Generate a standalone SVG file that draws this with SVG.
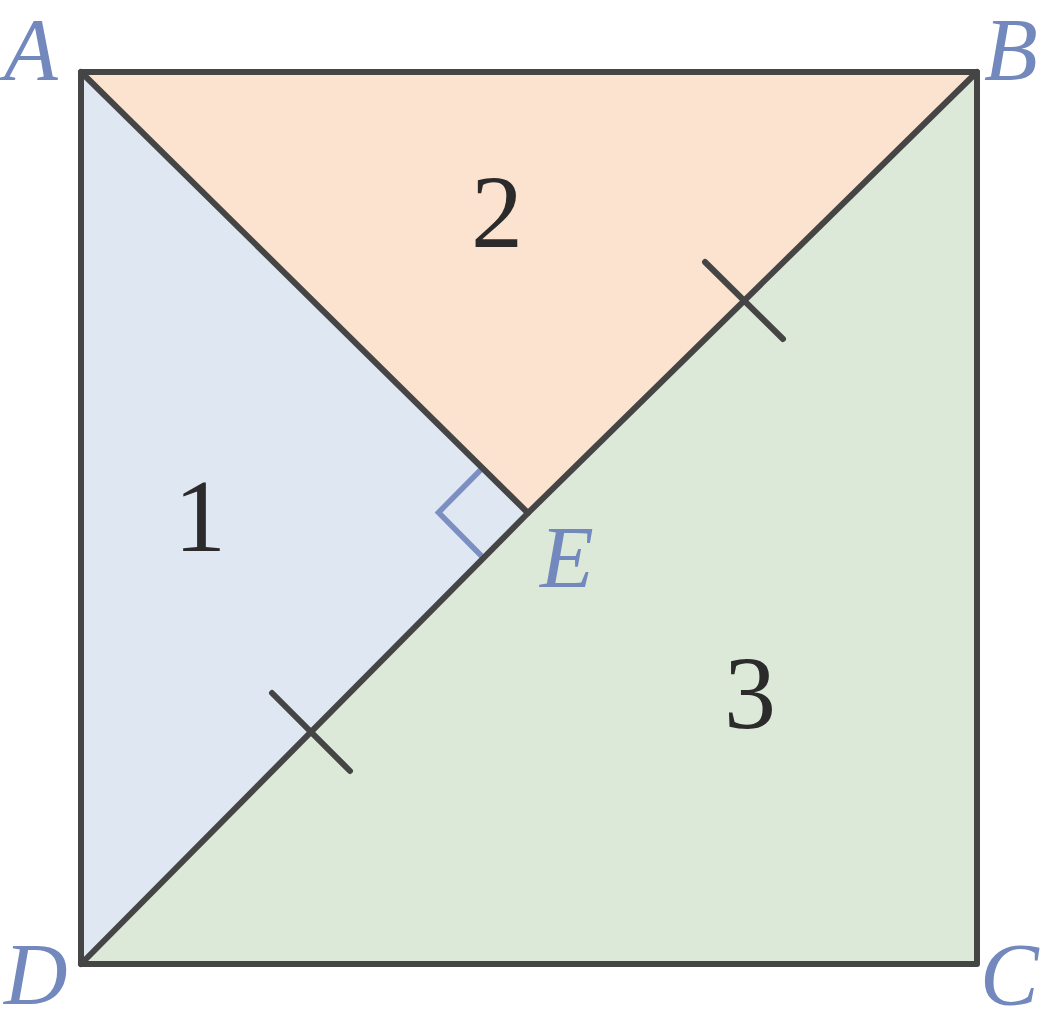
<svg xmlns="http://www.w3.org/2000/svg" width="1042" height="1024" viewBox="0 0 1042 1024">
<style>
.edge{stroke:#454545;stroke-width:6;fill:none;stroke-linecap:round;stroke-linejoin:round}
.lbl{font-family:"Liberation Serif","DejaVu Serif",serif;font-style:italic;font-size:88px;fill:#7389bd}
.num{font-family:"Liberation Serif","DejaVu Serif",serif;font-size:104px;fill:#2b2b2b;text-anchor:middle}
</style>
<rect width="1042" height="1024" fill="#ffffff"/>
<g id="regions">
<polygon id="region1" points="81,72 528,513 81,964" fill="#dfe7f3"/>
<polygon id="region2" points="81,72 977,72 528,513" fill="#fbe3d0"/>
<polygon id="region3" points="977,72 977,964 81,964 528,513" fill="#dde9d8"/>
</g>
<g id="right-angle">
<polyline points="481.5,469 438.5,512.5 481.5,556" fill="none" stroke="#7b8fc2" stroke-width="5.5" stroke-linejoin="miter"/>
</g>
<g id="connectors">
<rect class="edge" x="81" y="72" width="896" height="892"/>
<line class="edge" x1="81" y1="72" x2="528" y2="513"/>
<polyline class="edge" points="81,964 528,513 977,72"/>
<line class="edge" x1="705" y1="262" x2="783" y2="339"/>
<line class="edge" x1="272" y1="693" x2="350" y2="771"/>
</g>
<g id="labels">
<text class="lbl" x="4" y="79">A</text>
<text class="lbl" x="984" y="79">B</text>
<text class="lbl" x="980" y="1004">C</text>
<text class="lbl" x="4" y="1004">D</text>
<text class="lbl" x="540" y="587">E</text>
</g>
<g id="numbers">
<text class="num" x="200" y="551">1</text>
<text class="num" x="497" y="247">2</text>
<text class="num" x="750" y="728">3</text>
</g>
</svg>
